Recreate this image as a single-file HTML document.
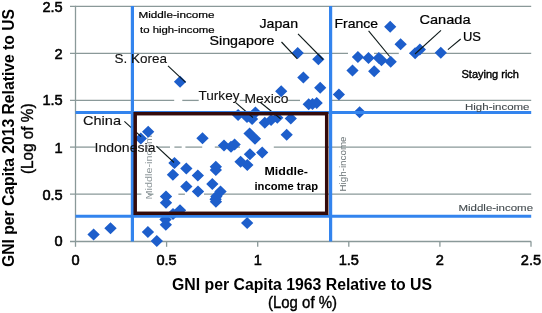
<!DOCTYPE html><html><head><meta charset="utf-8"><style>
html,body{margin:0;padding:0;background:#fff;width:542px;height:313px;overflow:hidden}
svg{display:block;filter:blur(0.3px)}
text{font-family:"Liberation Sans",sans-serif}
</style></head><body>
<svg width="542" height="313" viewBox="0 0 542 313">
<rect width="542" height="313" fill="#fff"/>
<line x1="70" y1="194.2" x2="141.4" y2="194.2" stroke="#8a9999" stroke-width="1.3"/>
<line x1="148" y1="194.2" x2="153.4" y2="194.2" stroke="#8a9999" stroke-width="1.3"/>
<line x1="178.4" y1="194.2" x2="184.9" y2="194.2" stroke="#8a9999" stroke-width="1.3"/>
<line x1="204" y1="194.2" x2="531.2" y2="194.2" stroke="#8a9999" stroke-width="1.3"/>
<line x1="70" y1="147.1" x2="95.7" y2="147.1" stroke="#8a9999" stroke-width="1.3"/>
<line x1="156.6" y1="147.1" x2="170" y2="147.1" stroke="#8a9999" stroke-width="1.3"/>
<line x1="174.4" y1="147.1" x2="181.7" y2="147.1" stroke="#8a9999" stroke-width="1.3"/>
<line x1="185.4" y1="147.1" x2="202.2" y2="147.1" stroke="#8a9999" stroke-width="1.3"/>
<line x1="214.8" y1="147.1" x2="240" y2="147.1" stroke="#8a9999" stroke-width="1.3"/>
<line x1="273.8" y1="147.1" x2="531.2" y2="147.1" stroke="#8a9999" stroke-width="1.3"/>
<line x1="70" y1="100.4" x2="174.2" y2="100.4" stroke="#8a9999" stroke-width="1.3"/>
<line x1="182.3" y1="100.4" x2="198.7" y2="100.4" stroke="#8a9999" stroke-width="1.3"/>
<line x1="239.7" y1="100.4" x2="245.9" y2="100.4" stroke="#8a9999" stroke-width="1.3"/>
<line x1="287.7" y1="100.4" x2="300" y2="100.4" stroke="#8a9999" stroke-width="1.3"/>
<line x1="331" y1="100.4" x2="531.2" y2="100.4" stroke="#8a9999" stroke-width="1.3"/>
<line x1="70" y1="53.4" x2="348" y2="53.4" stroke="#8a9999" stroke-width="1.3"/>
<line x1="374" y1="53.4" x2="398.8" y2="53.4" stroke="#8a9999" stroke-width="1.3"/>
<line x1="409.6" y1="53.4" x2="531.2" y2="53.4" stroke="#8a9999" stroke-width="1.3"/>
<line x1="70" y1="6.4" x2="531.2" y2="6.4" stroke="#8a9999" stroke-width="1.3"/>
<line x1="75.5" y1="5.8" x2="75.5" y2="246.8" stroke="#8a9999" stroke-width="1.3"/>
<line x1="70" y1="241.5" x2="531.2" y2="241.5" stroke="#8a9999" stroke-width="1.3"/>
<line x1="166.6" y1="241.5" x2="166.6" y2="246.8" stroke="#8a9999" stroke-width="1.3"/>
<line x1="257.7" y1="241.5" x2="257.7" y2="246.8" stroke="#8a9999" stroke-width="1.3"/>
<line x1="348.8" y1="241.5" x2="348.8" y2="246.8" stroke="#8a9999" stroke-width="1.3"/>
<line x1="439.9" y1="241.5" x2="439.9" y2="246.8" stroke="#8a9999" stroke-width="1.3"/>
<line x1="531.0" y1="241.5" x2="531.0" y2="246.8" stroke="#8a9999" stroke-width="1.3"/>
<text transform="translate(151.8 198.5) rotate(-90)" x="-1.0" font-size="9.8" font-weight="normal" fill="#8e979a" textLength="70.5" lengthAdjust="spacingAndGlyphs">Middle-income</text>
<text transform="translate(346.0 190.7) rotate(-90)" x="-0.8" font-size="9.8" font-weight="normal" fill="#6a7376" textLength="55.0" lengthAdjust="spacingAndGlyphs">High-income</text>
<path fill="#1d5ecb" d="M93.6 228.5L99.8 234.5L93.6 240.5L87.4 234.5ZM110.5 222.2L116.7 228.2L110.5 234.2L104.3 228.2ZM148.2 125.8L154.3 131.8L148.2 137.8L142.0 131.8ZM140.8 132.5L147.0 138.5L140.8 144.5L134.7 138.5ZM174.5 157.1L180.7 163.1L174.5 169.1L168.3 163.1ZM186.3 162.4L192.5 168.4L186.3 174.4L180.2 168.4ZM172.9 168.8L179.1 174.8L172.9 180.8L166.8 174.8ZM197.8 169.6L204.0 175.6L197.8 181.6L191.7 175.6ZM186.3 180.4L192.5 186.4L186.3 192.4L180.2 186.4ZM198.0 185.4L204.2 191.4L198.0 197.4L191.8 191.4ZM166.0 190.4L172.2 196.4L166.0 202.4L159.8 196.4ZM166.0 196.7L172.2 202.7L166.0 208.7L159.8 202.7ZM180.0 204.2L186.2 210.2L180.0 216.2L173.8 210.2ZM173.0 208.0L179.2 214.0L173.0 220.0L166.8 214.0ZM165.5 213.5L171.7 219.5L165.5 225.5L159.3 219.5ZM165.8 218.8L172.0 224.8L165.8 230.8L159.7 224.8ZM147.9 225.9L154.1 231.9L147.9 237.9L141.8 231.9ZM156.8 234.9L163.0 240.9L156.8 246.9L150.7 240.9ZM202.5 132.2L208.7 138.2L202.5 144.2L196.3 138.2ZM215.8 160.7L222.0 166.7L215.8 172.7L209.7 166.7ZM215.8 164.1L222.0 170.1L215.8 176.1L209.7 170.1ZM212.3 178.0L218.5 184.0L212.3 190.0L206.2 184.0ZM220.5 185.6L226.7 191.6L220.5 197.6L214.3 191.6ZM216.3 190.6L222.5 196.6L216.3 202.6L210.2 196.6ZM215.6 193.2L221.8 199.2L215.6 205.2L209.4 199.2ZM215.9 195.8L222.1 201.8L215.9 207.8L209.8 201.8ZM224.0 139.4L230.2 145.4L224.0 151.4L217.8 145.4ZM231.0 140.8L237.2 146.8L231.0 152.8L224.8 146.8ZM234.6 138.4L240.8 144.4L234.6 150.4L228.4 144.4ZM240.6 155.8L246.8 161.8L240.6 167.8L234.4 161.8ZM247.3 159.1L253.5 165.1L247.3 171.1L241.2 165.1ZM249.9 148.3L256.1 154.3L249.9 160.3L243.8 154.3ZM262.2 146.5L268.3 152.5L262.2 158.5L256.1 152.5ZM249.6 127.5L255.8 133.5L249.6 139.5L243.4 133.5ZM255.0 132.8L261.1 138.8L255.0 144.8L248.8 138.8ZM247.2 216.9L253.3 222.9L247.2 228.9L241.0 222.9ZM238.1 109.0L244.2 115.0L238.1 121.0L231.9 115.0ZM255.4 106.6L261.6 112.6L255.4 118.6L249.2 112.6ZM247.0 111.0L253.2 117.0L247.0 123.0L240.8 117.0ZM252.1 113.0L258.2 119.0L252.1 125.0L245.9 119.0ZM264.8 116.8L270.9 122.8L264.8 128.8L258.7 122.8ZM271.1 114.1L277.2 120.1L271.1 126.1L265.0 120.1ZM277.3 111.8L283.4 117.8L277.3 123.8L271.2 117.8ZM290.8 112.5L296.9 118.5L290.8 124.5L284.7 118.5ZM286.7 128.8L292.8 134.8L286.7 140.8L280.6 134.8ZM180.1 75.8L186.2 81.8L180.1 87.8L173.9 81.8ZM281.2 85.3L287.3 91.3L281.2 97.3L275.1 91.3ZM297.7 47.1L303.8 53.1L297.7 59.1L291.6 53.1ZM318.4 53.3L324.5 59.3L318.4 65.3L312.2 59.3ZM303.4 71.6L309.5 77.6L303.4 83.6L297.2 77.6ZM320.2 81.8L326.3 87.8L320.2 93.8L314.1 87.8ZM308.7 98.3L314.8 104.3L308.7 110.3L302.6 104.3ZM312.5 98.0L318.6 104.0L312.5 110.0L306.4 104.0ZM316.7 96.9L322.8 102.9L316.7 108.9L310.6 102.9ZM338.9 88.4L345.0 94.4L338.9 100.4L332.8 94.4ZM359.6 106.3L365.8 112.3L359.6 118.3L353.5 112.3ZM352.5 64.4L358.6 70.4L352.5 76.4L346.4 70.4ZM374.2 65.3L380.3 71.3L374.2 77.3L368.1 71.3ZM357.9 51.1L364.0 57.1L357.9 63.1L351.8 57.1ZM368.5 51.9L374.6 57.9L368.5 63.9L362.4 57.9ZM378.8 52.1L384.9 58.1L378.8 64.1L372.7 58.1ZM381.5 54.3L387.6 60.3L381.5 66.3L375.4 60.3ZM390.7 55.8L396.8 61.8L390.7 67.8L384.6 61.8ZM390.2 20.8L396.3 26.8L390.2 32.8L384.1 26.8ZM400.6 38.3L406.8 44.3L400.6 50.3L394.5 44.3ZM415.1 47.3L421.2 53.3L415.1 59.3L409.0 53.3ZM419.9 43.4L426.0 49.4L419.9 55.4L413.8 49.4ZM440.8 46.7L446.9 52.7L440.8 58.7L434.7 52.7Z"/>
<line x1="124.4" y1="121.3" x2="141.1" y2="136.6" stroke="#0d1818" stroke-width="1.1"/>
<line x1="156.4" y1="146.2" x2="174" y2="162.5" stroke="#0d1818" stroke-width="1.1"/>
<line x1="168" y1="65.9" x2="185.6" y2="82.3" stroke="#0d1818" stroke-width="1.1"/>
<line x1="281.5" y1="42" x2="297.3" y2="58.8" stroke="#0d1818" stroke-width="1.1"/>
<line x1="298" y1="33.9" x2="323.2" y2="59.5" stroke="#0d1818" stroke-width="1.1"/>
<line x1="235.7" y1="102.7" x2="252.9" y2="117.5" stroke="#0d1818" stroke-width="1.1"/>
<line x1="260.2" y1="102.3" x2="280.6" y2="118.7" stroke="#0d1818" stroke-width="1.1"/>
<line x1="368.6" y1="30.8" x2="389.7" y2="56.5" stroke="#0d1818" stroke-width="1.1"/>
<line x1="441" y1="30.4" x2="415" y2="54" stroke="#0d1818" stroke-width="1.1"/>
<line x1="460.7" y1="39" x2="447.9" y2="49.7" stroke="#0d1818" stroke-width="1.1"/>
<line x1="132.4" y1="6" x2="132.4" y2="241.5" stroke="#3384ee" stroke-width="3.2"/>
<line x1="330.6" y1="6" x2="330.6" y2="241.5" stroke="#3384ee" stroke-width="3.2"/>
<line x1="75.5" y1="112.4" x2="531.2" y2="112.4" stroke="#3384ee" stroke-width="3"/>
<line x1="75.5" y1="216.3" x2="531.2" y2="216.3" stroke="#3384ee" stroke-width="3"/>
<rect x="135.2" y="113.7" width="191.5" height="99.6" fill="none" stroke="#340b0b" stroke-width="3.5"/>
<text x="259.5" y="27.9" font-size="12.8" font-weight="normal" fill="#000" stroke="#000" stroke-width="0.22" textLength="38.5" lengthAdjust="spacingAndGlyphs">Japan</text>
<text x="209.5" y="44.9" font-size="12.8" font-weight="normal" fill="#000" stroke="#000" stroke-width="0.22" textLength="65.0" lengthAdjust="spacingAndGlyphs">Singapore</text>
<text x="114.5" y="62.6" font-size="12.8" font-weight="normal" fill="#111" stroke="#111" stroke-width="0.1" textLength="52.5" lengthAdjust="spacingAndGlyphs">S. Korea</text>
<text x="334.5" y="27.7" font-size="12.8" font-weight="normal" fill="#000" stroke="#000" stroke-width="0.22" textLength="43.5" lengthAdjust="spacingAndGlyphs">France</text>
<text x="419.5" y="23.7" font-size="12.8" font-weight="normal" fill="#000" stroke="#000" stroke-width="0.22" textLength="51.0" lengthAdjust="spacingAndGlyphs">Canada</text>
<text x="463.0" y="41.2" font-size="12.8" font-weight="normal" fill="#000" stroke="#000" stroke-width="0.22" textLength="18.0" lengthAdjust="spacingAndGlyphs">US</text>
<text x="198.5" y="100.2" font-size="12.8" font-weight="normal" fill="#111" stroke="#111" stroke-width="0.1" textLength="41.0" lengthAdjust="spacingAndGlyphs">Turkey</text>
<text x="244.5" y="102.8" font-size="12.8" font-weight="normal" fill="#111" stroke="#111" stroke-width="0.1" textLength="44.0" lengthAdjust="spacingAndGlyphs">Mexico</text>
<text x="83.0" y="125.1" font-size="12.8" font-weight="normal" fill="#111" stroke="#111" stroke-width="0.15" textLength="38.0" lengthAdjust="spacingAndGlyphs">China</text>
<text x="94.5" y="151.5" font-size="12.8" font-weight="normal" fill="#111" stroke="#111" stroke-width="0.1" textLength="61.0" lengthAdjust="spacingAndGlyphs">Indonesia</text>
<text x="138.5" y="18.3" font-size="9.2" font-weight="normal" fill="#000" stroke="#000" stroke-width="0.2" textLength="76.0" lengthAdjust="spacingAndGlyphs">Middle-income</text>
<text x="140.0" y="32.6" font-size="9.2" font-weight="normal" fill="#000" stroke="#000" stroke-width="0.2" textLength="74.5" lengthAdjust="spacingAndGlyphs">to high-income</text>
<text x="461.5" y="78.0" font-size="10.8" font-weight="normal" fill="#000" stroke="#000" stroke-width="0.4" textLength="57.5" lengthAdjust="spacingAndGlyphs">Staying rich</text>
<text x="465.0" y="109.6" font-size="9.3" font-weight="normal" fill="#41494d" stroke="#41494d" stroke-width="0.1" textLength="64.5" lengthAdjust="spacingAndGlyphs">High-income</text>
<text x="458.5" y="210.8" font-size="9.3" font-weight="normal" fill="#41494d" stroke="#41494d" stroke-width="0.1" textLength="74.5" lengthAdjust="spacingAndGlyphs">Middle-income</text>
<text x="264.5" y="175.0" font-size="10.0" font-weight="bold" fill="#000" textLength="43.5" lengthAdjust="spacingAndGlyphs">Middle-</text>
<text x="254.5" y="189.8" font-size="10.0" font-weight="bold" fill="#000" textLength="63.5" lengthAdjust="spacingAndGlyphs">income trap</text>
<text x="172.0" y="289.7" font-size="16" font-weight="bold" fill="#000" textLength="260.0" lengthAdjust="spacingAndGlyphs">GNI per Capita 1963 Relative to US</text>
<text x="268.0" y="307.8" font-size="15.6" font-weight="normal" fill="#000" stroke="#000" stroke-width="0.4" textLength="69.0" lengthAdjust="spacingAndGlyphs">(Log of %)</text>
<text transform="translate(14.1 266.0) rotate(-90)" x="-1.0" font-size="16" font-weight="bold" fill="#000" textLength="258.0" lengthAdjust="spacingAndGlyphs">GNI per Capita 2013 Relative to US</text>
<text transform="translate(32.6 172.8) rotate(-90)" x="-1.2" font-size="15.6" font-weight="normal" fill="#000" stroke="#000" stroke-width="0.4" textLength="70.5" lengthAdjust="spacingAndGlyphs">(Log of %)</text>
<text x="62.7" y="246.3" font-size="14.6" fill="#000" stroke="#000" stroke-width="0.55" text-anchor="end">0</text>
<text x="75.5" y="264.5" font-size="14.6" fill="#000" stroke="#000" stroke-width="0.55" text-anchor="middle">0</text>
<text x="62.7" y="199.6" font-size="14.6" fill="#000" stroke="#000" stroke-width="0.55" text-anchor="end">0.5</text>
<text x="166.6" y="264.5" font-size="14.6" fill="#000" stroke="#000" stroke-width="0.55" text-anchor="middle">0.5</text>
<text x="62.7" y="152.5" font-size="14.6" fill="#000" stroke="#000" stroke-width="0.55" text-anchor="end">1</text>
<text x="257.7" y="264.5" font-size="14.6" fill="#000" stroke="#000" stroke-width="0.55" text-anchor="middle">1</text>
<text x="62.7" y="104.9" font-size="14.6" fill="#000" stroke="#000" stroke-width="0.55" text-anchor="end">1.5</text>
<text x="348.8" y="264.5" font-size="14.6" fill="#000" stroke="#000" stroke-width="0.55" text-anchor="middle">1.5</text>
<text x="62.7" y="58.6" font-size="14.6" fill="#000" stroke="#000" stroke-width="0.55" text-anchor="end">2</text>
<text x="439.9" y="264.5" font-size="14.6" fill="#000" stroke="#000" stroke-width="0.55" text-anchor="middle">2</text>
<text x="62.7" y="12.1" font-size="14.6" fill="#000" stroke="#000" stroke-width="0.55" text-anchor="end">2.5</text>
<text x="531.0" y="264.5" font-size="14.6" fill="#000" stroke="#000" stroke-width="0.55" text-anchor="middle">2.5</text>
</svg></body></html>
